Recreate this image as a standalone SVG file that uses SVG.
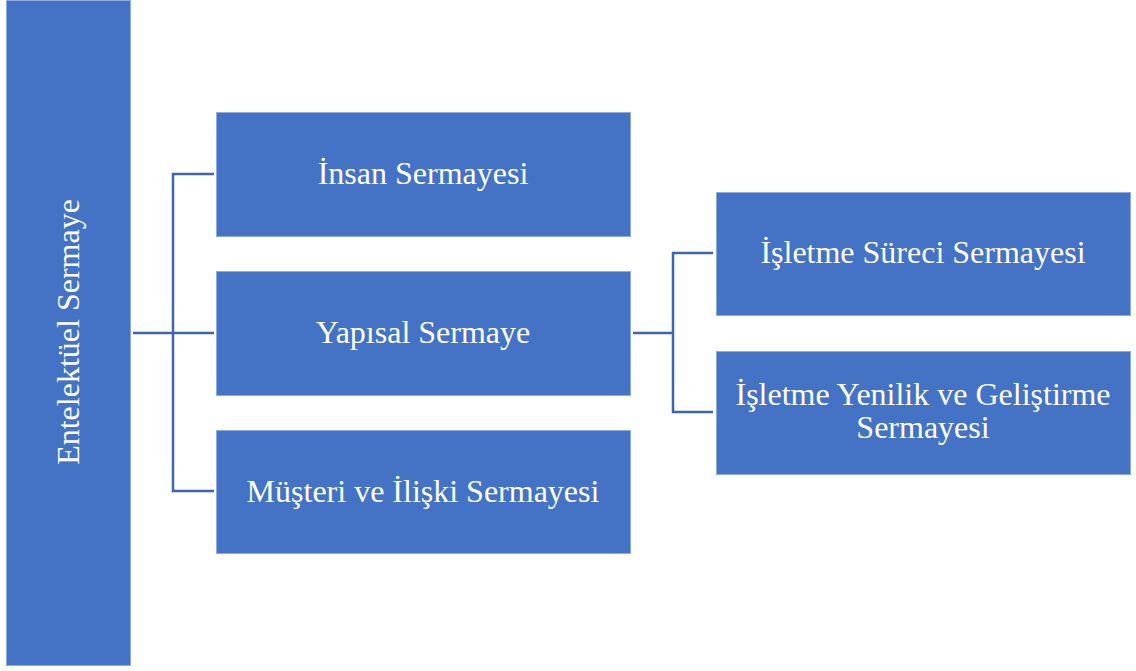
<svg xmlns="http://www.w3.org/2000/svg" width="1136" height="671" viewBox="0 0 1136 671">
<style>
.box{fill:#4472C4;stroke:#8FAADC;stroke-width:1}
.t{font-family:"Liberation Serif","Times New Roman",serif;font-size:32px;fill:#FFFFFF;text-anchor:middle}
.c{fill:none;stroke:#3F65AA;stroke-width:2.5}
</style>
<rect width="1136" height="671" fill="#FFFFFF"/>
<g id="connectors">
<polyline class="c" points="133,333 173,333"/>
<polyline class="c" points="214,174 173,174 173,491 214,491"/>
<polyline class="c" points="173,333 214,333"/>
<polyline class="c" points="633,333 673,333"/>
<polyline class="c" points="713,253 673,253 673,412 713,412"/>
</g>
<g id="n0">
<rect class="box" x="6.5" y="0.5" width="124" height="665"/>
<text class="t" transform="translate(79,332) rotate(-90)">Entelektüel Sermaye</text>
</g>
<g id="n1">
<rect class="box" x="216.5" y="112.5" width="414" height="124"/>
<text class="t" x="423" y="184">İnsan Sermayesi</text>
</g>
<g id="n2">
<rect class="box" x="216.5" y="271.5" width="414" height="124"/>
<text class="t" x="423" y="343">Yapısal Sermaye</text>
</g>
<g id="n3">
<rect class="box" x="216.5" y="430.5" width="414" height="123"/>
<text class="t" x="423" y="502">Müşteri ve İlişki Sermayesi</text>
</g>
<g id="n4">
<rect class="box" x="716.5" y="192.5" width="414" height="123"/>
<text class="t" x="923" y="263">İşletme Süreci Sermayesi</text>
</g>
<g id="n5">
<rect class="box" x="716.5" y="351.5" width="414" height="123"/>
<text class="t" x="923" y="405">İşletme Yenilik ve Geliştirme</text>
<text class="t" x="923" y="438">Sermayesi</text>
</g>
</svg>
